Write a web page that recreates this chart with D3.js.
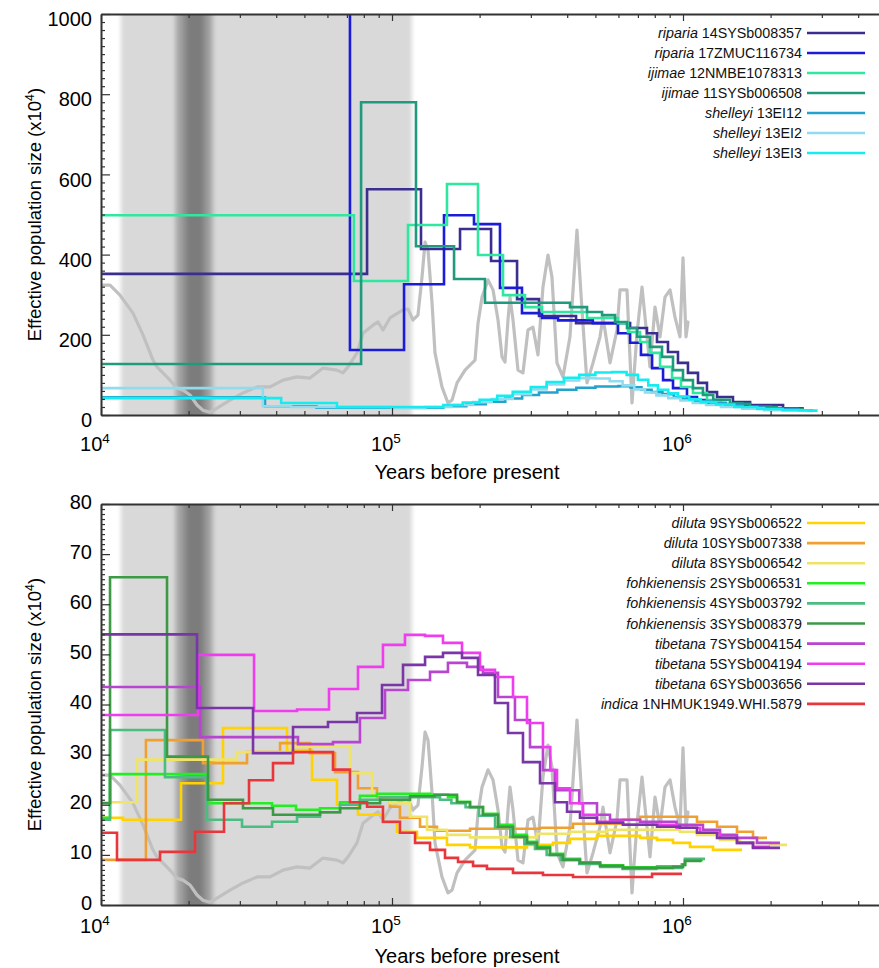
<!DOCTYPE html>
<html>
<head>
<meta charset="utf-8">
<script src="https://cdn.jsdelivr.net/npm/d3@7"></script>
<style>
  body { margin: 0; background: #fff; }
  svg { display: block; font-family: "Liberation Sans", Arial, sans-serif; }
</style>
</head>
<body>
<svg id="chart" width="879" height="968"></svg>
<script>
// ---------------- time axis (years before present) ----------------
const timeDomain = [1e4, 5e6];
const decadeTicks = [1e4, 1e5, 1e6];

// shaded climate periods, in years before present
const glacialPeriod = [11700, 117000];                       // last glacial period
const lgmLayers = [[18000, 24300], [18900, 23300], [19700, 22400]]; // Last Glacial Maximum

// relative climate proxy record: [years, index 0-100 of panel height]
const proxyRecord = [
  [10160,32.4],[10740,32.4],[11620,29.9],[12880,25.4],[13940,20.0],[15090,13.7],[15570,12.0],
  [17260,8.7],[18250,6.7],[19130,6.2],[20220,5.0],[21380,2.5],[22410,1.2],[23690,0.7],
  [25040,1.7],[27760,3.7],[30760,5.5],[34370,7.0],[38090,7.0],[42220,8.7],[47160,9.5],
  [52270,9.2],[57930,11.7],[64710,11.2],[67850,10.5],[70620,12.0],[75810,15.5],[79480,20.4],
  [86040,22.4],[89520,23.2],[93130,21.2],[98430,24.2],[109100,26.2],[113500,26.4],[118100,23.7],
  [122800,24.9],[126800,34.4],[129900,43.1],[133000,41.1],[137300,27.9],[140500,15.5],[148500,7.0],
  [155700,3.0],[160800,3.7],[167300,8.0],[178200,11.2],[192900,13.7],[197500,22.9],[203900,29.4],
  [213800,33.7],[222400,31.2],[231400,23.7],[238800,14.5],[244500,13.2],[250400,23.7],[254400,29.4],
  [260500,23.7],[271000,11.2],[281900,10.5],[293300,21.2],[305100,21.9],[317400,15.0],[330200,31.9],
  [343600,39.9],[354600,34.4],[368900,13.0],[386800,9.5],[408900,19.5],[432200,46.1],[449700,26.2],
  [467800,8.0],[490600,13.0],[518500,19.5],[530900,24.4],[561200,13.0],[593200,21.2],[607400,31.2],
  [642000,31.2],[667900,3.0],[695000,20.4],[723100,31.9],[752100,19.5],[770100,12.0],[801300,26.9],
  [833700,19.5],[867200,29.4],[902400,31.2],[938600,24.4],[976500,19.5],[1000000,39.2],[1024000,19.5],
  [1040000,23.2]
];

// ---------------- upper panel: Ne (x10^4) step histories ----------------
const topSpecies = ["riparia", "riparia", "ijimae", "ijimae", "shelleyi", "shelleyi", "shelleyi"];
const topSamples = ["14SYSb008357", "17ZMUC116734", "12NMBE1078313", "11SYSb006508", "13EI12", "13EI2", "13EI3"];

const riparia14 = [[1e4,352],[8.21e4,563],[1.258e5,414],[1.713e5,464],[2.19e5,384],[2.69e5,289],[3.2e5,247],
  [4.29e5,229],[6.58e5,217],[7.52e5,204],[8.14e5,182],[8.88e5,157],[9.61e5,130],[1.04e6,105],[1.126e6,80],
  [1.209e6,57],[1.309e6,45],[1.485e6,32],[1.7e6,25],[2.207e6,17],[2.6e6,17]];
const riparia17 = [[1e4,2600],[7.17e4,162],[1.1e5,326],[1.509e5,498],[1.913e5,476],[2.35e5,317],[2.797e5,254],
  [3.278e5,242],[3.72e5,236],[4.9e5,229],[5.98e5,204],[6.58e5,180],[7.17e5,150],[7.83e5,117],[8.54e5,87],
  [9.24e5,67],[1.032e6,45],[1.117e6,37],[1.209e6,30],[1.4e6,22],[1.8e6,16],[2.3e6,16]];
const ijimae12 = [[1e4,498],[7.4e4,334],[1.135e5,474],[1.545e5,576],[1.975e5,399],[2.407e5,299],[2.864e5,269],
  [3.278e5,257],[4.68e5,242],[5.98e5,229],[6.47e5,207],[7.12e5,182],[7.7e5,155],[8.34e5,120],[9.17e5,92],
  [9.84e5,70],[1.082e6,55],[1.209e6,37],[1.35e6,28],[1.6e6,20],[2.0e6,15],[2.5e6,15]];
const ijimae11 = [[1e4,127],[7.83e4,780],[1.209e5,421],[1.634e5,339],[2.087e5,280],[4.09e5,269],[4.68e5,257],
  [5.27e5,249],[5.84e5,232],[6.42e5,217],[6.95e5,195],[7.7e5,170],[8.47e5,145],[9.24e5,112],[1.0e6,87],
  [1.082e6,67],[1.171e6,50],[1.27e6,38],[1.45e6,28],[1.7e6,20],[2.1e6,15],[2.6e6,15]];
const shelleyi12 = [[1e4,44],[3.66e4,22],[5.5e4,18],[1.2e5,18],[1.5e5,22],[1.8e5,27],[2.1e5,33],[2.45e5,41],
  [2.8e5,50],[3.2e5,56],[3.7e5,63],[4.3e5,68],[5.0e5,71],[6.0e5,72],[6.6e5,69],[7.2e5,63],[7.8e5,57],
  [8.5e5,52],[9.3e5,45],[1.0e6,40],[1.1e6,35],[1.25e6,30],[1.4e6,24],[1.6e6,19],[1.9e6,14],[2.5e6,12],[2.8e6,12]];
const shelleyi2 = [[1e4,67],[3.6e4,22],[4.5e4,20],[1.0e5,17],[1.3e5,20],[1.6e5,25],[1.9e5,32],[2.2e5,40],
  [2.6e5,52],[3.0e5,64],[3.4e5,76],[3.9e5,86],[4.4e5,92],[5.0e5,91],[5.6e5,84],[6.2e5,74],[6.8e5,64],
  [7.4e5,56],[8.1e5,49],[8.9e5,42],[9.8e5,36],[1.08e6,30],[1.2e6,25],[1.35e6,20],[1.6e6,16],[1.9e6,12],[2.6e6,10],[2.8e6,10]];
const shelleyi3 = [[1e4,42],[4.16e4,30],[6.47e4,20],[1.2e5,20],[1.5e5,25],[1.75e5,31],[2.0e5,38],[2.3e5,48],
  [2.6e5,58],[3.0e5,70],[3.4e5,82],[3.9e5,93],[4.4e5,100],[5.0e5,106],[5.7e5,107],[6.4e5,100],[7.0e5,88],
  [7.6e5,74],[8.2e5,63],[8.9e5,54],[9.6e5,46],[1.05e6,39],[1.15e6,32],[1.3e6,26],[1.5e6,20],[1.8e6,15],
  [2.2e6,12],[2.7e6,11],[2.9e6,11]];
const topValues = [riparia14, riparia17, ijimae12, ijimae11, shelleyi12, shelleyi2, shelleyi3];

// ---------------- lower panel: Ne (x10^4) step histories ----------------
const bottomSpecies = ["diluta", "diluta", "diluta", "fohkienensis", "fohkienensis", "fohkienensis",
  "tibetana", "tibetana", "tibetana", "indica"];
const bottomSamples = ["9SYSb006522", "10SYSb007338", "8SYSb006542", "2SYSb006531", "4SYSb003792",
  "3SYSb008379", "7SYSb004154", "5SYSb004194", "6SYSb003656", "1NHMUK1949.WHI.5879"];

const diluta9 = [[1e4,17.4],[1.19e4,17],[1.883e4,24.3],[2.626e4,35.3],[4.357e4,30.9],[5.311e4,25],[6.47e4,20],
  [7.64e4,18],[9.31e4,16.4],[1.04e5,14.6],[1.219e5,13.4],[1.545e5,12],[1.854e5,11.5],[2.91e5,12],[3.575e5,12.4],
  [4.09e5,13.2],[5.064e5,13.8],[7.12e5,13.4],[8.14e5,13],[9.24e5,12.4],[1.057e6,11.6],[1.268e6,11],[1.595e6,11]];
const diluta10 = [[1e4,9],[1.427e4,32.9],[2.241e4,28.3],[3.175e4,30.5],[4.124e4,32.3],[5.227e4,30.3],[6.37e4,26.5],
  [7.64e4,23.3],[8.88e4,21.5],[9.84e4,19.6],[1.065e5,17.4],[1.248e5,15.6],[1.428e5,14.8],[1.854e5,15.2],
  [3.226e5,15.4],[4.188e5,16.2],[6.22e5,17],[7.12e5,17.6],[1.117e6,16.6],[1.309e6,15.6],[1.533e6,14.6],
  [1.74e6,13.4],[1.944e6,13.4]];
const diluta8 = [[1e4,20.5],[1.33e4,29],[2.934e4,30.5],[4.462e4,31.6],[7.17e4,26.3],[8.54e4,22],[9.84e4,20.3],
  [1.153e5,17.6],[1.319e5,15],[1.545e5,14],[1.854e5,13.5],[3.149e5,14.2],[4.09e5,14.6],[5.48e5,15],[9.76e5,14.6],
  [1.117e6,14],[1.34e6,13],[1.57e6,12.4],[1.991e6,12],[2.278e6,12]];
const fohk2 = [[1e4,17.4],[1.074e4,26.1],[2.313e4,20.3],[3.87e4,19.8],[4.679e4,19],[5.657e4,19.3],[6.63e4,20.5],
  [7.76e4,21.8],[8.88e4,22.2],[1.351e5,22],[1.557e5,21.5],[1.673e5,20.6],[1.854e5,19.6],[2.054e5,18.2],
  [2.314e5,16],[2.605e5,14],[2.91e5,12.6],[3.149e5,11.6],[3.491e5,10.2],[3.87e5,9.2],[4.426e5,8.5],
  [5.185e5,7.9],[6.22e5,7.5],[8.14e5,7.7],[9.92e5,8.1],[1.016e6,9],[1.171e6,9]];
const fohk4 = [[1e4,17],[1.074e4,34.9],[1.659e4,25.5],[2.313e4,17],[3.052e4,15.6],[3.87e4,16.6],[4.716e4,17.6],
  [5.657e4,18.5],[6.63e4,20],[7.76e4,21],[9.1e4,21.5],[1.462e5,21],[1.6e5,20.3],[1.79e5,19.5],[1.99e5,17.8],
  [2.26e5,15.5],[2.55e5,13.6],[2.85e5,12.2],[3.1e5,11.2],[3.4e5,10],[3.8e5,9],[4.4e5,8.2],[5.2e5,7.6],
  [6.2e5,7.2],[8.1e5,7.4],[9.92e5,8],[1.016e6,9.2],[1.19e6,9.2]];
const fohk3 = [[1e4,20.3],[1.074e4,65.4],[1.686e4,29.6],[2.332e4,21],[3.076e4,19.3],[3.9e4,18],[5.657e4,18.5],
  [6.63e4,19.3],[7.76e4,20.3],[9.1e4,21],[1.153e5,21.7],[1.4e5,22],[1.673e5,20.5],[1.854e5,19.5],[2.054e5,18],
  [2.314e5,15.6],[2.605e5,13.6],[2.91e5,12.4],[3.149e5,11.4],[3.491e5,10],[3.87e5,9],[4.426e5,8.4],
  [5.185e5,7.8],[6.22e5,7.4],[8.14e5,7.4],[9.24e5,7.6],[1.0e6,8],[1.016e6,8.8],[1.16e6,8.8]];
const tibetana7 = [[1e4,43.5],[2.189e4,33.5],[4.753e4,32.1],[6.27e4,32.5],[7.76e4,37.3],[9.46e4,42.9],
  [1.135e5,44.9],[1.351e5,46.5],[1.557e5,48.3],[1.81e5,47.5],[2.054e5,46.3],[2.314e5,41.5],[2.646e5,36.9],
  [2.98e5,31.5],[3.302e5,26.9],[3.632e5,22.9],[4.4e5,20.3],[5.064e5,18],[5.612e5,17],[7.12e5,16.6],
  [9.5e5,16],[1.171e6,15],[1.34e6,14],[1.533e6,13.4],[1.796e6,12.4],[2.154e6,12.4]];
const tibetana5 = [[1e4,37.9],[2.154e4,49.9],[3.357e4,38.7],[4.716e4,39],[6.075e4,43.1],[7.64e4,47.5],
  [9.31e4,51.9],[1.108e5,53.9],[1.299e5,53.7],[1.497e5,52.3],[1.74e5,50.3],[2.006e5,46.9],[2.259e5,45.5],
  [2.605e5,41.5],[2.91e5,36.3],[3.302e5,31.5],[3.5e5,26.9],[3.69e5,23.3],[4.09e5,20.3],[4.533e5,18],
  [5.064e5,16.6],[6.22e5,16],[9.5e5,15.4],[1.144e6,14.4],[1.34e6,13.4],[1.533e6,12.4],[1.74e6,11.6],[1.991e6,11.6]];
const tibetana6 = [[1e4,54],[2.138e4,39.3],[3.33e4,30.3],[4.569e4,35.5],[6.027e4,36.5],[7.58e4,38.3],
  [9.24e4,43.9],[1.091e5,47.9],[1.299e5,49.5],[1.497e5,50.3],[1.74e5,49.3],[1.975e5,45.9],[2.259e5,40.3],
  [2.504e5,34.3],[2.819e5,28.5],[3.226e5,24.3],[3.632e5,20.5],[3.995e5,18.6],[4.426e5,17.4],[5.064e5,16.4],
  [6.22e5,16],[8.14e5,15.6],[9.76e5,15.4],[1.117e6,14.4],[1.309e6,13.4],[1.533e6,12.4],[1.74e6,11.4],[2.154e6,11.4]];
const indica1 = [[1e4,14.4],[1.135e4,9],[1.595e4,10.6],[2.104e4,14.6],[2.647e4,20.3],[3.226e4,24.9],[3.9e4,28.3],
  [4.569e4,30.5],[6.27e4,27],[7.17e4,20.5],[8.21e4,19.6],[9.31e4,16.6],[1.065e5,14.4],[1.2e5,12.4],[1.351e5,11],
  [1.521e5,9.4],[1.686e5,8.6],[1.899e5,7.8],[2.12e5,7.2],[2.605e5,6.4],[3.302e5,6],[4.188e5,5.6],[7.83e5,6.2],
  [9.92e5,6.2]];
const bottomValues = [diluta9, diluta10, diluta8, fohk2, fohk4, fohk3, tibetana7, tibetana5, tibetana6, indica1];

// ---------------- y ticks ----------------
const topYTicks = d3.range(0, 1001, 200);
const bottomYTicks = d3.range(0, 81, 10);

// ---------------- styling ----------------
const topColors = ["#3b2e8e", "#1c1cd8", "#2ee8a0", "#1f9a7c", "#22a2cc", "#90dcee", "#14ecf0"];
const bottomColors = ["#ffd200", "#f0a030", "#f0e468", "#22ee22", "#4cbc80", "#3c9a46",
  "#b845cf", "#f03cef", "#7a35a6", "#e8363c"];
const lgmShades = ["#a8a8a8", "#929292", "#7c7c7c"];
const axisColor = "#333";

const svg = d3.select("#chart");
const defs = svg.append("defs");
defs.append("filter").attr("id", "soften").attr("x", "-20%").attr("width", "140%")
  .append("feGaussianBlur").attr("stdDeviation", "2 0");

const x = d3.scaleLog().domain(timeDomain).range([101, 101 + 291 * Math.log10(timeDomain[1] / timeDomain[0])]);
const xTicks = x.ticks();
const isDecade = v => decadeTicks.some(d => Math.abs(d - v) < 1e-6 * d);

function drawPanel(p) {
  const y = d3.scaleLinear().domain([0, p.yMax]).range([p.bottom, p.top]);
  const yProxy = d3.scaleLinear().domain([0, 100]).range([p.bottom, p.top]);
  const [x0, x1] = x.range();

  const clipId = "clip-" + p.id;
  defs.append("clipPath").attr("id", clipId).append("rect")
    .attr("x", x0).attr("y", p.top).attr("width", x1 - x0).attr("height", p.bottom - p.top);

  const plot = svg.append("g").attr("clip-path", `url(#${clipId})`);

  // climate periods
  const shade = plot.append("g").attr("filter", "url(#soften)");
  shade.append("rect")
    .attr("x", x(glacialPeriod[0])).attr("width", x(glacialPeriod[1]) - x(glacialPeriod[0]))
    .attr("y", p.top - 10).attr("height", p.bottom - p.top + 20).attr("fill", "#d9d9d9");
  lgmLayers.forEach((b, i) => {
    shade.append("rect")
      .attr("x", x(b[0])).attr("width", x(b[1]) - x(b[0]))
      .attr("y", p.top - 10).attr("height", p.bottom - p.top + 20).attr("fill", lgmShades[i]);
  });

  // climate proxy
  plot.append("path").datum(proxyRecord)
    .attr("d", d3.line().x(d => x(d[0])).y(d => yProxy(d[1])))
    .attr("fill", "none").attr("stroke", "#c0c0c0").attr("stroke-width", 3.2)
    .attr("stroke-linejoin", "round").attr("stroke-linecap", "round");

  // PSMC step histories
  const step = d3.line().curve(d3.curveStepAfter).x(d => x(d[0])).y(d => y(d[1]));
  p.values.forEach((vals, i) => {
    plot.append("path").datum(vals).attr("d", step)
      .attr("fill", "none").attr("stroke", p.colors[i]).attr("stroke-width", 2.6);
  });

  // axes: ticks point inward
  const bottomAxis = svg.append("g").attr("transform", `translate(0,${p.bottom})`)
    .call(d3.axisBottom(x).tickValues(xTicks).tickSize(0).tickSizeOuter(0).tickFormat(""));
  bottomAxis.selectAll(".tick line").attr("y2", d => isDecade(d) ? -7 : -4);
  const topAxis = svg.append("g").attr("transform", `translate(0,${p.top})`)
    .call(d3.axisTop(x).tickValues(xTicks).tickSize(0).tickSizeOuter(0).tickFormat(""));
  topAxis.selectAll(".tick line").attr("y2", d => isDecade(d) ? 7 : 4);

  const yAll = d3.range(0, p.yMax + p.minor / 2, p.minor);
  const isMajorY = v => Math.abs(v / p.major - Math.round(v / p.major)) < 1e-6;
  const leftAxis = svg.append("g").attr("transform", `translate(${x0},0)`)
    .call(d3.axisLeft(y).tickValues(yAll).tickSize(0).tickSizeOuter(0).tickPadding(9)
      .tickFormat(v => isMajorY(v) && p.yTicks.includes(Math.round(v)) ? String(Math.round(v)) : ""));
  leftAxis.selectAll(".tick line").attr("x2", d => isMajorY(d) ? 9 : 4);
  leftAxis.selectAll(".tick text").attr("font-size", 20).attr("fill", "#000")
    .attr("font-family", '"Liberation Sans", Arial, sans-serif')
    .attr("dy", p.labelDy);

  [bottomAxis, topAxis, leftAxis].forEach(g => {
    g.select(".domain").attr("stroke", axisColor).attr("stroke-width", 2);
    g.selectAll(".tick line").attr("stroke", axisColor).attr("stroke-width", 1.2);
  });

  // decade labels 10^n
  decadeTicks.forEach(v => {
    const t = svg.append("text").attr("x", x(v) - 6).attr("y", p.bottom + p.xLabelGap)
      .attr("text-anchor", "middle").attr("font-size", 20).attr("fill", "#000");
    t.append("tspan").text("10");
    t.append("tspan").attr("dy", -8).attr("font-size", 13.5).text(String(Math.round(Math.log10(v))));
  });

  // axis titles
  svg.append("text").attr("x", 467).attr("y", p.bottom + p.titleGap)
    .attr("text-anchor", "middle").attr("font-size", 20).attr("fill", "#000")
    .text("Years before present");
  const yt = svg.append("text")
    .attr("transform", `translate(${41},${(p.top + p.bottom) / 2}) rotate(-90)`)
    .attr("text-anchor", "middle").attr("font-size", 18.5).attr("fill", "#000");
  yt.append("tspan").text("Effective population size (x10");
  yt.append("tspan").attr("dy", -7).attr("font-size", 12.5).text("4");
  yt.append("tspan").attr("dy", 7).text(")");

  // legend
  const leg = svg.append("g");
  p.species.forEach((sp, i) => {
    const cy = p.legendTop + i * p.legendStep;
    const t = leg.append("text").attr("x", 802).attr("y", cy + 5)
      .attr("text-anchor", "end").attr("font-size", 14.3).attr("fill", "#111");
    t.append("tspan").attr("font-style", "italic").text(sp);
    t.append("tspan").text(" " + p.samples[i]);
    leg.append("line").attr("x1", 807).attr("x2", 865).attr("y1", cy).attr("y2", cy)
      .attr("stroke", p.colors[i]).attr("stroke-width", 2.6);
  });
}

drawPanel({
  id: "upper", top: 14, bottom: 415, yMax: 1000, major: 200, minor: 20, yTicks: topYTicks,
  labelDy: "0.58em", xLabelGap: 36, titleGap: 64,
  values: topValues, colors: topColors, species: topSpecies, samples: topSamples,
  legendTop: 33, legendStep: 20
});
drawPanel({
  id: "lower", top: 504, bottom: 905, yMax: 80, major: 10, minor: 1, yTicks: bottomYTicks,
  labelDy: "0.2em", xLabelGap: 28, titleGap: 58,
  values: bottomValues, colors: bottomColors, species: bottomSpecies, samples: bottomSamples,
  legendTop: 523, legendStep: 20.1
});
</script>
</body>
</html>
